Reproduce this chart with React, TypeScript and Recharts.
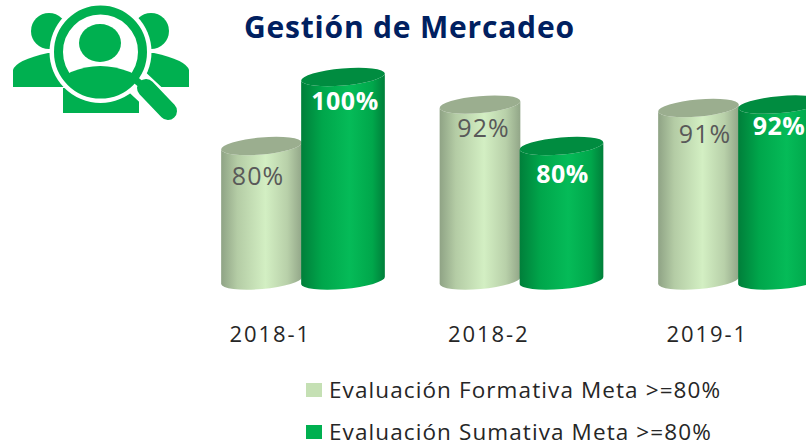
import { BarChart, Bar, XAxis, YAxis, LabelList } from 'recharts';

const categories = ['2018-1', '2018-2', '2019-1'];
const formativa = [80, 92, 91];
const sumativa = [100, 80, 92];
const seriesNames = ['Evaluación Formativa Meta >=80%', 'Evaluación Sumativa Meta >=80%'];
const legendColors = ['#c5e0b4', '#00b050'];

const chartData = categories.map((periodo, i) => ({
  periodo,
  formativa: formativa[i],
  sumativa: sumativa[i],
}));

const FONT = '"Open Sans", sans-serif';
const TILT = 5;
const RY = 8.5;

// small per-label nudges, the labels in the picture are not centred on the bars
const lightNudge = [[-3, 4], [4, -3], [7, 0]];
const darkNudge = [[2, -2], [1, 2], [-1, -5]];

// cylinder with a tilted ellipse on top and at the base
function Cylinder(props: any) {
  const { y, height, gradient, cap } = props;
  const x = props.x + props.shiftX;
  const width = props.width + props.grow;
  const rx = width / 2;
  const cx = x + rx;
  const rad = (TILT * Math.PI) / 180;
  const ex = rx * Math.cos(rad);
  const ey = rx * Math.sin(rad);
  const bottom = y + height;
  const body = `M${cx - ex} ${y + ey} L${cx - ex} ${bottom + ey} A${rx} ${RY} ${-TILT} 0 0 ${cx + ex} ${bottom - ey} L${cx + ex} ${y - ey} A${rx} ${RY} ${-TILT} 0 1 ${cx - ex} ${y + ey} Z`;
  return (
    <g>
      <path d={body} fill={`url(#${gradient})`} />
      <ellipse cx={cx} cy={y} rx={rx} ry={RY} fill={cap} transform={`rotate(${-TILT} ${cx} ${y})`} />
    </g>
  );
}

function barLabel(color: string, weight: number, spacing: number, nudge: number[][]) {
  return (props: any) => {
    const { x, y, width, value, index } = props;
    return (
      <text
        x={x + width / 2 + nudge[index][0]}
        y={y + 25 + nudge[index][1]}
        textAnchor="middle"
        dominantBaseline="central"
        fill={color}
        fontFamily={FONT}
        fontSize={25}
        fontWeight={weight}
        letterSpacing={spacing}
      >
        {value}%
      </text>
    );
  };
}

function SearchIcon() {
  const green = '#00b050';
  return (
    <svg width={200} height={125} style={{ position: 'absolute', left: 0, top: 0 }}>
      <ellipse cx={49} cy={31} rx={18} ry={18} fill={green} />
      <ellipse cx={151} cy={31} rx={18} ry={18} fill={green} />
      <path d="M13 87 L13 70 Q16 60 48 53 L70 53 L70 87 Z" fill={green} />
      <path d="M189 87 L189 70 Q186 60 154 53 L130 53 L130 87 Z" fill={green} />
      <path d="M63 113 L63 88 L139 88 L139 113 Z" fill={green} />
      <circle cx={100.5} cy={52} r={51} fill="#fff" />
      <line x1={137} y1={82} x2={168} y2={111} stroke="#fff" strokeWidth={26} strokeLinecap="round" />
      <circle cx={100.5} cy={52} r={42} fill="none" stroke={green} strokeWidth={9} />
      <ellipse cx={100} cy={43} rx={21} ry={19} fill={green} />
      <path d="M71 72 Q100 60 130 72 L138 76 L118 92 L84 92 L64 76 Z" fill={green} />
      <line x1={146} y1={88} x2={168} y2={111} stroke={green} strokeWidth={18} strokeLinecap="round" />
      <line x1={132} y1={77} x2={148} y2={90} stroke={green} strokeWidth={7} />
    </svg>
  );
}

export default function App() {
  return (
    <div style={{ position: 'fixed', left: 0, top: 0, width: 806, height: 446, overflow: 'hidden', background: '#fff', fontFamily: FONT }}>
      <SearchIcon />
      <div style={{ position: 'absolute', left: 244, top: 6, fontSize: 30, fontWeight: 700, letterSpacing: 0.8, color: '#002060', whiteSpace: 'nowrap' }}>
        Gestión de Mercadeo
      </div>
      <BarChart
        width={860}
        height={446}
        data={chartData}
        margin={{ top: 77, right: 11.5, bottom: 95.5, left: 193 }}
        barSize={82}
        barGap={0}
      >
        <defs>
          <linearGradient id="cylLight" x1="0" y1="0" x2="1" y2="0">
            <stop offset="0" stopColor="#8fa385" />
            <stop offset="0.2" stopColor="#b4cca5" />
            <stop offset="0.55" stopColor="#d3efc3" />
            <stop offset="0.82" stopColor="#b8d0a9" />
            <stop offset="1" stopColor="#92a688" />
          </linearGradient>
          <linearGradient id="cylDark" x1="0" y1="0" x2="1" y2="0">
            <stop offset="0" stopColor="#007f3a" />
            <stop offset="0.25" stopColor="#00a64b" />
            <stop offset="0.58" stopColor="#05bb58" />
            <stop offset="0.85" stopColor="#00a74b" />
            <stop offset="1" stopColor="#007f3a" />
          </linearGradient>
        </defs>
        <XAxis
          dataKey="periodo"
          axisLine={false}
          tickLine={false}
          height={70}
          tickMargin={40}
          tick={{ fill: '#262626', fontSize: 22, letterSpacing: 1.9, fontFamily: FONT, dx: -32 }}
        />
        <YAxis hide domain={[41, 100]} />
        <Bar
          dataKey="formativa"
          isAnimationActive={false}
          shape={(p: any) => <Cylinder {...p} shiftX={1} grow={-1} gradient="cylLight" cap="#9bae8f" />}
        >
          <LabelList dataKey="formativa" content={barLabel('#595959', 400, 1, lightNudge)} />
        </Bar>
        <Bar
          dataKey="sumativa"
          isAnimationActive={false}
          shape={(p: any) => <Cylinder {...p} shiftX={-1} grow={2} gradient="cylDark" cap="#008c40" />}
        >
          <LabelList dataKey="sumativa" content={barLabel('#ffffff', 700, 0.5, darkNudge)} />
        </Bar>
      </BarChart>
      {seriesNames.map((name, i) => (
        <div key={name} style={{ position: 'absolute', left: 306, top: 378 + i * 42, height: 24, display: 'flex', alignItems: 'center', whiteSpace: 'nowrap' }}>
          <span style={{ width: 16, height: 14, background: legendColors[i], marginRight: 7 }} />
          <span style={{ fontSize: 22.5, lineHeight: '24px', letterSpacing: 1.1, color: '#262626' }}>{name}</span>
        </div>
      ))}
    </div>
  );
}
